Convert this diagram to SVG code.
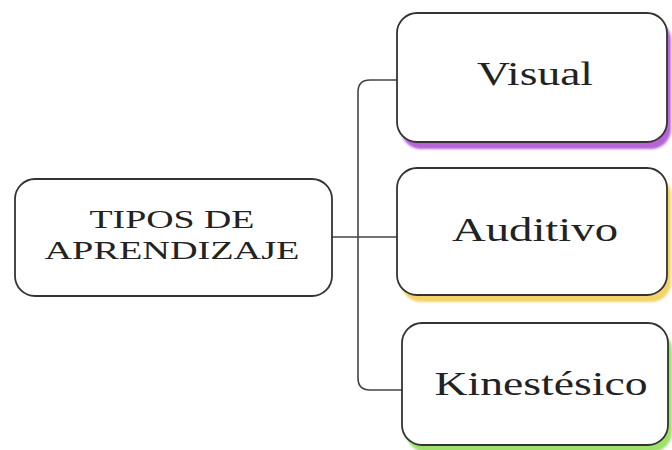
<svg xmlns="http://www.w3.org/2000/svg" width="672" height="450" viewBox="0 0 672 450">
<style>
.box{fill:#fff;stroke:#333;stroke-width:1.8}
.lbl{font-family:"Liberation Serif","Times New Roman",serif;fill:#222;text-anchor:middle}
.conn{fill:none;stroke:#444;stroke-width:1.6}
</style>
<defs>
<filter id="soft" x="-5%" y="-5%" width="110%" height="110%"><feGaussianBlur stdDeviation="1.2"/></filter>
</defs>
<rect width="672" height="450" fill="#fff"/>
<g id="connectors">
<path class="conn" d="M332,237 H397"/>
<path class="conn" d="M397,80 H370 Q358,80 358,92 V378 Q358,390 370,390 H402"/>
</g>
<g id="root">
<rect class="box" x="15" y="179" width="317" height="117" rx="20"/>
<text class="lbl" x="172" y="228" font-size="25" textLength="165" lengthAdjust="spacingAndGlyphs">TIPOS DE</text>
<text class="lbl" x="172" y="259" font-size="25" textLength="255" lengthAdjust="spacingAndGlyphs">APRENDIZAJE</text>
</g>
<g id="visual">
<rect x="401" y="20" width="270" height="129" rx="20" fill="#b565d6" filter="url(#soft)"/>
<rect class="box" x="397" y="13" width="270" height="129" rx="20"/>
<text class="lbl" x="535" y="85" font-size="33" textLength="116" lengthAdjust="spacingAndGlyphs">Visual</text>
</g>
<g id="auditivo">
<rect x="401" y="175" width="270" height="127" rx="20" fill="#f4d36a" filter="url(#soft)"/>
<rect class="box" x="397" y="168" width="270" height="127" rx="20"/>
<text class="lbl" x="535" y="241" font-size="33" textLength="166" lengthAdjust="spacingAndGlyphs">Auditivo</text>
</g>
<g id="kinestesico">
<rect x="406" y="330" width="266" height="122" rx="20" fill="#9ee06a" filter="url(#soft)"/>
<rect class="box" x="402" y="323" width="266" height="122" rx="20"/>
<text class="lbl" x="541" y="395" font-size="33" textLength="213" lengthAdjust="spacingAndGlyphs">Kinestésico</text>
</g>
</svg>
